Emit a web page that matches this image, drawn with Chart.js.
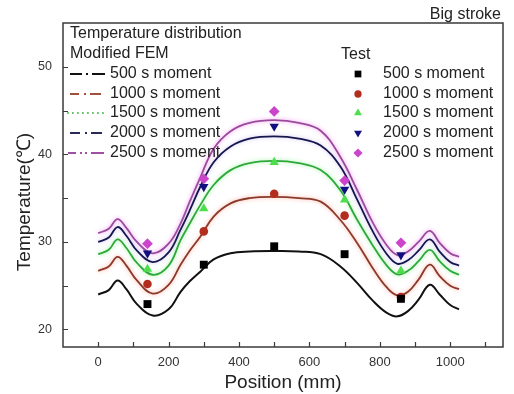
<!DOCTYPE html>
<html>
<head>
<meta charset="utf-8">
<script src="https://cdn.jsdelivr.net/npm/chart.js@4"></script>
<style>
html,body{margin:0;padding:0;background:#fff;}
#wrap{width:514px;height:394px;position:relative;}
</style>
</head>
<body>
<div id="wrap"><canvas id="c" width="514" height="394"></canvas></div>
<script>
// ---- data ----
const curveX = [0, 30, 55, 80, 110, 155, 200, 234, 260, 290, 328, 376, 430, 500, 570, 632, 688, 736, 780, 820, 850, 880, 910, 942, 970, 1000, 1025];
const fem500  = [24.0, 24.5, 25.6, 24.6, 22.9, 21.6, 22.3, 24.3, 25.5, 26.6, 28.0, 28.7, 28.9, 28.95, 28.9, 28.6, 27.2, 25.3, 23.3, 21.9, 21.5, 22.1, 23.4, 25.1, 24.0, 22.8, 22.3];
const fem1000 = [26.7, 27.2, 28.3, 27.3, 25.6, 24.1, 25.1, 27.4, 29.0, 30.6, 32.9, 34.4, 35.0, 35.15, 35.0, 34.6, 32.5, 29.85, 27.0, 24.8, 23.9, 24.3, 25.7, 27.4, 26.1, 25.0, 24.6];
const fem1500 = [28.6, 29.1, 30.3, 29.3, 27.6, 26.25, 27.3, 30.2, 32.1, 34.2, 36.5, 38.2, 39.0, 39.25, 39.0, 38.2, 35.9, 32.5, 29.6, 27.3, 26.3, 26.7, 27.8, 29.1, 27.8, 26.7, 26.25];
const fem2000 = [30.0, 30.5, 31.7, 30.7, 29.0, 27.7, 28.8, 31.4, 33.6, 36.3, 39.1, 40.9, 41.8, 42.05, 41.8, 41.0, 38.6, 34.8, 31.2, 28.6, 27.5, 27.9, 29.0, 30.3, 28.9, 27.7, 27.3];
const fem2500 = [31.0, 31.5, 32.6, 31.6, 30.0, 28.7, 29.8, 32.1, 34.6, 37.35, 40.65, 42.65, 43.6, 43.9, 43.6, 42.7, 39.7, 35.9, 32.2, 29.6, 28.5, 28.9, 30.0, 31.25, 29.9, 28.7, 28.3];

const testX = [140, 300, 500, 700, 860];
const test500  = [22.9, 27.4, 29.5, 28.6, 23.5];
const test1000 = [25.2, 31.2, 35.5, 33.0, 23.7];
const test1500 = [26.9, 33.8, 39.1, 34.8, 26.7];
const test2000 = [28.7, 36.3, 43.2, 36.0, 28.5];
const test2500 = [29.8, 37.2, 44.9, 37.0, 29.9];

const seriesNames = ['500 s moment', '1000 s moment', '1500 s moment', '2000 s moment', '2500 s moment'];
const xTickValues = [0, 200, 400, 600, 800, 1000];
const yTickValues = [20, 30, 40, 50];

// ---- styles ----
const lineColors  = ['#111111', '#8a3a2b', '#2ea83c', '#16164e', '#9a4a9a'];
const glowColors  = ['rgba(0,0,0,0)', 'rgba(255,140,120,0.75)', 'rgba(120,240,120,0.75)', 'rgba(170,150,230,0.6)', 'rgba(245,120,245,0.8)'];
const markColors  = ['#000000', '#b22d1e', '#4ddd4d', '#10107e', '#cc44cc'];
const markStyles  = ['rect', 'circle', 'triangle', 'triangle', 'rectRot'];
const markRot     = [0, 0, 0, 180, 0];
const markRadius  = [5.6, 4.3, 5.4, 5.4, 5.4];

const femSeries = [fem500, fem1000, fem1500, fem2000, fem2500];
const testSeries = [test500, test1000, test1500, test2000, test2500];
const pts = (xs, ys) => xs.map((x, i) => ({x: x, y: ys[i]}));

const datasets = [];
femSeries.forEach((s, i) => datasets.push({
  type: 'line', label: 'FEM ' + seriesNames[i], data: pts(curveX, s),
  borderColor: lineColors[i], borderWidth: i === 0 ? 2 : 1.8, pointRadius: 0, tension: 0.4,
  fill: false, glow: glowColors[i], order: 2
}));
testSeries.forEach((s, i) => datasets.push({
  type: 'scatter', label: 'Test ' + seriesNames[i], data: pts(testX, s),
  backgroundColor: markColors[i], borderColor: markColors[i], borderWidth: 0,
  pointStyle: markStyles[i], rotation: markRot[i], pointRadius: markRadius[i], order: 1
}));

const FONT = "Arial, 'Liberation Sans', sans-serif";

const decor = {
  id: 'decor',
  beforeDatasetDraw(chart, args) {
    const ds = chart.data.datasets[args.index];
    chart.ctx.save();
    if (ds.glow) { chart.ctx.shadowColor = ds.glow; chart.ctx.shadowBlur = 4; }
  },
  afterDatasetDraw(chart) { chart.ctx.restore(); },
  afterDraw(chart) {
    const ctx = chart.ctx, a = chart.chartArea;
    const xs = chart.scales.x, ys = chart.scales.y;
    ctx.save();
    // frame
    ctx.strokeStyle = '#3a3a3a'; ctx.lineWidth = 1.5;
    ctx.strokeRect(a.left, a.top, a.right - a.left, a.bottom - a.top);
    // inward ticks
    ctx.lineWidth = 1.2;
    ctx.beginPath();
    for (let v = 0; v <= 1100; v += 100) {
      const px = Math.round(xs.getPixelForValue(v)) + 0.5;
      ctx.moveTo(px, a.bottom); ctx.lineTo(px, a.bottom - 5);
    }
    for (let v = 20; v <= 50; v += 5) {
      const py = Math.round(ys.getPixelForValue(v)) + 0.5;
      ctx.moveTo(a.left, py); ctx.lineTo(a.left + 5, py);
    }
    ctx.stroke();

    // y title
    ctx.save();
    ctx.translate(25, 202);
    ctx.rotate(-Math.PI / 2);
    ctx.fillStyle = '#222'; ctx.font = '19px ' + FONT;
    ctx.textAlign = 'center'; ctx.textBaseline = 'middle';
    ctx.fillText('Temperature(\u2103)', 0, 0);
    ctx.restore();

    // top-right note
    ctx.fillStyle = '#222'; ctx.font = '16px ' + FONT;
    ctx.textAlign = 'right'; ctx.textBaseline = 'middle';
    ctx.fillText('Big stroke', 501, 15);

    // legend text
    ctx.textAlign = 'left';
    ctx.fillText('Temperature distribution', 70, 34);
    ctx.fillText('Modified FEM', 70, 54);
    ctx.fillText('Test', 341, 55);
    const rowY = [74, 94, 113, 133, 153];
    const sampleCol = ['#111111', '#a0503f', '#6cc76c', '#2a2a5a', '#a050a0'];
    rowY.forEach((y, i) => {
      ctx.fillStyle = '#222';
      ctx.fillText(seriesNames[i], 110, y);
      ctx.fillText(seriesNames[i], 383, y);
      // line sample
      ctx.strokeStyle = sampleCol[i]; ctx.lineWidth = 1.8;
      let segs;
      if (i === 0) segs = [[70, 82], [86, 88], [92, 105]];
      else if (i === 1) segs = [[70, 79], [84, 86], [90, 101]];
      else if (i === 2) { segs = []; for (let x = 67; x < 106; x += 5) segs.push([x, x + 1.8]); }
      else if (i === 3) segs = [[70, 80], [85, 87], [91, 102]];
      else segs = [[68, 76], [80, 82], [85, 87], [91, 104]];
      ctx.beginPath();
      segs.forEach(s => { ctx.moveTo(s[0], y); ctx.lineTo(s[1], y); });
      ctx.stroke();
      // marker sample
      ctx.fillStyle = markColors[i]; ctx.strokeStyle = markColors[i]; ctx.lineWidth = 0.001;
      Chart.helpers.drawPoint(ctx, {
        pointStyle: markStyles[i], rotation: markRot[i], radius: markRadius[i] * 0.85, borderWidth: 0
      }, 358, y);
    });
    ctx.restore();
  }
};

new Chart(document.getElementById('c'), {
  data: { datasets: datasets },
  options: {
    responsive: false, animation: false,
    layout: { padding: { top: 23, right: 11, left: 0, bottom: 0 } },
    plugins: { legend: { display: false }, tooltip: { enabled: false } },
    scales: {
      x: {
        type: 'linear', min: -100, max: 1150,
        afterBuildTicks: s => { s.ticks = xTickValues.map(v => ({value: v})); },
        afterFit: s => { s.height = 47; },
        grid: { display: false, drawTicks: false },
        border: { display: false },
        ticks: { color: '#333', font: { family: FONT, size: 13 }, padding: 8, maxRotation: 0,
                 callback: v => String(v) },
        title: { display: true, text: 'Position (mm)', color: '#222',
                 font: { family: FONT, size: 19, lineHeight: 1.2 }, padding: { top: 0, bottom: 0 } }
      },
      y: {
        type: 'linear', min: 18, max: 55,
        afterBuildTicks: s => { s.ticks = yTickValues.map(v => ({value: v})); },
        afterFit: s => { s.width = 63; },
        grid: { display: false, drawTicks: false },
        border: { display: false },
        ticks: { color: '#333', font: { family: FONT, size: 12.5 }, padding: 11,
                 callback: v => String(v) }
      }
    }
  },
  plugins: [decor]
});
</script>
</body>
</html>
